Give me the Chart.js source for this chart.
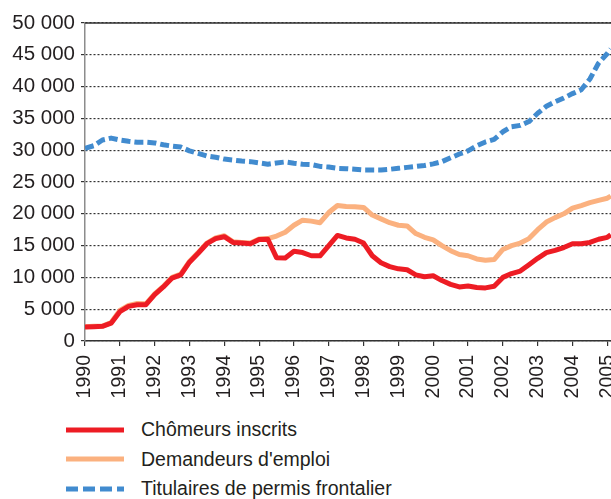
<!DOCTYPE html>
<html>
<head>
<meta charset="utf-8">
<script src="https://cdn.jsdelivr.net/npm/chart.js@4/dist/chart.umd.min.js"></script>
<style>
  body { margin: 0; background: #fff; font-family: "Liberation Sans", Arial, sans-serif; }
  #wrap { position: absolute; left: 0; top: 0; width: 611px; height: 400px; }
  .legend { position: absolute; left: 66px; top: 415px; color: #231f20; font-size: 19.5px; }
  .legend .row { height: 29.5px; display: flex; align-items: center; }
  .legend svg { width: 58px; height: 8px; margin-right: 17px; }
</style>
</head>
<body>
<div id="wrap"><canvas id="myChart" width="611" height="400"></canvas></div>
<div class="legend" id="legend"></div>
<script>
// quarterly time points (year fractions)
const dates = [
  1990, 1990.25, 1990.5, 1990.75, 1991, 1991.25, 1991.5, 1991.75,
  1992, 1992.25, 1992.5, 1992.75, 1993, 1993.25, 1993.5, 1993.75,
  1994, 1994.25, 1994.5, 1994.75, 1995, 1995.25, 1995.5, 1995.75,
  1996, 1996.25, 1996.5, 1996.75, 1997, 1997.25, 1997.5, 1997.75,
  1998, 1998.25, 1998.5, 1998.75, 1999, 1999.25, 1999.5, 1999.75,
  2000, 2000.25, 2000.5, 2000.75, 2001, 2001.25, 2001.5, 2001.75,
  2002, 2002.25, 2002.5, 2002.75, 2003, 2003.25, 2003.5, 2003.75,
  2004, 2004.25, 2004.5, 2004.75, 2005, 2005.1
];

const chomeurs = [
  2200, 2250, 2300, 2800, 4600, 5450, 5700, 5700,
  7300, 8500, 9900, 10400, 12400, 13800, 15300, 16100,
  16400, 15500, 15400, 15300, 15950, 16000, 13100, 13050,
  14100, 13900, 13400, 13400, 15000, 16600, 16200, 16000,
  15400, 13400, 12300, 11700, 11350, 11200, 10400, 10100,
  10250, 9500, 8900, 8500, 8650, 8400, 8350, 8600,
  10000, 10600, 11000, 12000, 13000, 13900, 14250, 14700,
  15300, 15300, 15500, 16000, 16300, 16700
];

const demandeurs = [
  2250, 2300, 2350, 2900, 4800, 5600, 5900, 5850,
  7400, 8600, 10000, 10500, 12500, 13900, 15400, 16200,
  16550, 15600, 15500, 15400, 16050, 16100, 16500, 17100,
  18200, 19000, 18850, 18600, 20200, 21300, 21150, 21100,
  21000, 19800, 19200, 18600, 18200, 18100, 16900, 16300,
  15900, 15000, 14200, 13600, 13400, 12900, 12700, 12800,
  14400, 15000, 15400, 16100, 17500, 18700, 19400, 20000,
  20900, 21300, 21750, 22100, 22450, 22800
];

const frontaliers = [
  30300, 30700, 31600, 31900, 31600, 31400, 31250, 31250,
  31150, 30850, 30650, 30500, 29900, 29500, 29100, 28900,
  28600, 28450, 28300, 28200, 28000, 27800, 28000, 28150,
  27950, 27800, 27750, 27450, 27350, 27150, 27100, 27000,
  26900, 26900, 26900, 27000, 27150, 27300, 27450, 27600,
  27850, 28200, 28800, 29400, 29900, 30700, 31300, 31700,
  32900, 33700, 33900, 34500, 35800, 36900, 37600, 38200,
  38900, 39500, 41200, 43700, 45200, 45900
];

const seriesNames = ["Chômeurs inscrits", "Demandeurs d'emploi", "Titulaires de permis frontalier"];
const seriesColors = ["#ed1c24", "#fbb17f", "#418bcf"];
const yearTicks = [1990, 1991, 1992, 1993, 1994, 1995, 1996, 1997, 1998, 1999, 2000, 2001, 2002, 2003, 2004, 2005];

const toPoints = (vals) => vals.map((v, i) => ({ x: dates[i], y: v }));

const fmt = (v) => v.toString().replace(/\B(?=(\d{3})+(?!\d))/g, " ");

// solid frame line on top of the plot
const topLine = {
  id: "topLine",
  afterDraw(chart) {
    const { ctx, chartArea } = chart;
    ctx.save();
    ctx.strokeStyle = "#333";
    ctx.lineWidth = 1.5;
    ctx.beginPath();
    ctx.moveTo(chartArea.left, chartArea.top);
    ctx.lineTo(chartArea.right, chartArea.top);
    ctx.stroke();
    ctx.restore();
  }
};

const ctx = document.getElementById("myChart").getContext("2d");
new Chart(ctx, {
  type: "line",
  data: {
    datasets: [
      { label: seriesNames[0], data: toPoints(chomeurs), borderColor: seriesColors[0], borderWidth: 5 },
      { label: seriesNames[1], data: toPoints(demandeurs), borderColor: seriesColors[1], borderWidth: 5 },
      { label: seriesNames[2], data: toPoints(frontaliers), borderColor: seriesColors[2], borderWidth: 5, borderDash: [9, 4] }
    ]
  },
  options: {
    responsive: false,
    animation: false,
    layout: { padding: { top: 23, right: 0, bottom: 0, left: 0 } },
    elements: { point: { radius: 0 }, line: { tension: 0, borderCapStyle: "butt", borderJoinStyle: "round" } },
    plugins: { legend: { display: false }, tooltip: { enabled: false } },
    scales: {
      x: {
        type: "linear",
        min: 1990,
        max: 2005.106,
        afterBuildTicks: (scale) => { scale.ticks = yearTicks.map(v => ({ value: v })); },
        afterFit: (scale) => { scale.height = 59; scale.paddingLeft = 0; scale.paddingRight = 0; },
        grid: { drawOnChartArea: false, drawTicks: true, tickLength: 5, tickColor: "#333", lineWidth: 1.2 },
        border: { color: "#333", width: 1.5 },
        ticks: {
          autoSkip: false, maxRotation: 90, minRotation: 90, padding: 9,
          color: "#231f20", font: { family: "Liberation Sans", size: 19.5 },
          callback: (v) => String(v)
        }
      },
      y: {
        min: 0,
        max: 50000,
        afterFit: (scale) => { scale.width = 85; scale.paddingTop = 0; scale.paddingBottom = 0; },
        grid: { color: "#333", lineWidth: 1.2, tickLength: 4, drawTicks: true },
        border: { color: "#8c8c8c", width: 1.5, dash: [2, 2] },
        ticks: {
          stepSize: 5000, padding: 6,
          color: "#231f20", font: { family: "Liberation Sans", size: 20.5 },
          callback: (v) => fmt(v)
        }
      }
    }
  },
  plugins: [topLine]
});

// legend below the chart
const legend = document.getElementById("legend");
seriesNames.forEach((name, i) => {
  const row = document.createElement("div");
  row.className = "row";
  const dash = i === 2 ? ' stroke-dasharray="12 5"' : "";
  row.innerHTML = '<svg viewBox="0 0 58 8"><line x1="0" y1="4" x2="58" y2="4" stroke="' + seriesColors[i] +
    '" stroke-width="5"' + dash + '/></svg><span>' + name + '</span>';
  legend.appendChild(row);
});
</script>
</body>
</html>
